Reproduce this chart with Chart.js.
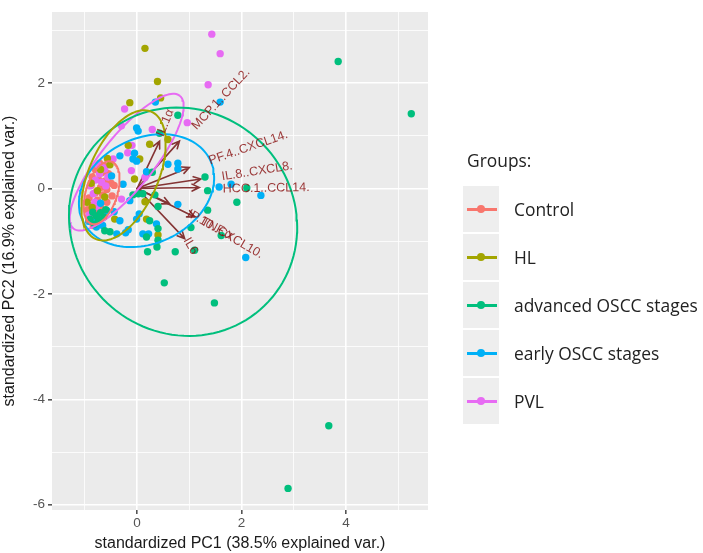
<!DOCTYPE html>
<html><head><meta charset="utf-8">
<script src="https://cdn.jsdelivr.net/npm/chart.js@4.4.1/dist/chart.umd.min.js"></script>
<style>
html,body{margin:0;padding:0;background:#fff;}
#wrap{position:relative;width:703px;height:553px;overflow:hidden;}
canvas{position:absolute;left:0;top:0;}
.lg{position:absolute;font-family:"Open Sans",sans-serif;font-size:17.4px;color:#222;line-height:20px;white-space:nowrap;}
.key{position:absolute;width:36px;height:46px;background:#EEEEEE;}
.kline{position:absolute;left:4px;width:30px;height:3px;top:21.5px;}
.kdot{position:absolute;left:14px;top:19px;width:8px;height:8px;border-radius:50%;}
</style></head><body>
<div id="wrap"><canvas id="c" width="703" height="553"></canvas></div>
<script>
// ---- data ----
const groupNames = ["Control","HL","advanced OSCC stages","early OSCC stages","PVL"];
const groupColors = ["#F8766D","#A3A500","#00BF7D","#00B0F6","#E76BF3"];

const controlPts = [[-0.72,0.48],[-0.62,0.42],[-0.80,0.36],[-0.68,0.30],[-0.55,0.28],[-0.86,0.22],[-0.74,0.17],[-0.62,0.14],[-0.50,0.10],[-0.88,0.06],[-0.70,0.02],[-0.58,-0.02],[-0.44,0.06],[-0.80,-0.08],[-0.66,-0.12],[-0.48,-0.14],[-0.92,-0.18],[-0.76,-0.22],[-0.58,-0.26],[-0.86,-0.32],[-0.70,-0.36],[-0.95,-0.40],[-0.80,-0.46],[-0.64,-0.48],[-0.88,-0.56],[-0.74,-0.62],[-0.84,-0.70]];
const hlPts = [[0.15,2.66],[0.39,2.03],[0.45,1.72],[-0.14,1.63],[0.59,0.93],[0.24,0.84],[-0.17,0.82],[-0.57,0.57],[0.05,0.56],[-0.05,0.18],[0.15,-0.25],[0.18,-0.58],[-0.43,-0.58],[0.40,-0.88],[-0.88,0.10],[-0.76,-0.04],[-0.86,-0.36],[-0.70,0.36],[-0.62,-0.16],[-0.96,-0.26],[-0.52,0.45]];
const advancedPts = [[3.85,2.41],[5.25,1.42],[0.52,-1.79],[1.48,-2.17],[3.67,-4.50],[2.89,-5.69],[0.78,1.39],[0.43,1.05],[1.30,0.22],[1.35,-0.04],[2.10,0.01],[1.91,-0.26],[1.35,-0.41],[1.03,-0.74],[1.61,-0.89],[0.73,-1.20],[1.10,-1.17],[0.20,-1.20],[0.38,-1.11],[0.40,-0.34],[0.29,0.31],[-0.08,-0.12],[0.02,-0.10],[0.11,-0.10],[0.34,-0.12],[0.24,-0.61],[0.40,-0.76],[0.40,-0.98],[0.18,-0.92],[-0.62,-0.80],[-0.52,-0.82],[-0.85,-0.45],[-0.78,-0.52],[-0.70,-0.46],[-0.90,-0.58],[-0.74,-0.60],[-0.64,-0.54],[-0.82,-0.68],[-0.60,-0.40]];
const earlyPts = [[1.59,1.64],[0.35,1.64],[-0.01,1.15],[0.02,1.09],[-0.05,0.67],[-0.33,0.62],[-0.08,0.56],[-0.01,0.52],[0.59,0.46],[0.78,0.48],[0.78,0.37],[0.18,0.32],[-0.49,0.24],[-0.27,0.08],[1.57,0.03],[1.80,0.08],[2.37,-0.13],[0.78,-0.30],[-0.14,-0.23],[0.04,-0.48],[-0.01,-0.58],[-0.33,-0.61],[-0.44,-0.44],[-0.58,-0.42],[-0.17,-0.78],[-0.22,-0.84],[-0.39,-0.86],[0.11,-0.86],[0.22,-0.86],[0.37,-0.67],[2.08,-1.31],[-0.81,-0.64],[-0.78,-0.73],[-0.70,-0.28],[-0.93,-0.62],[-0.66,-0.70]];
const pvlPts = [[1.43,2.93],[1.59,2.56],[1.36,1.97],[-0.24,1.51],[0.96,1.25],[-0.30,1.19],[0.29,1.12],[-0.10,0.82],[-0.18,0.68],[-0.46,0.56],[-0.62,0.37],[-0.11,0.34],[0.15,0.21],[-0.30,-0.20],[-0.75,0.45],[-0.66,0.40],[-0.72,0.28],[-0.56,0.22],[-0.80,0.16],[-0.68,0.12],[-0.90,0.05],[-0.84,-0.10],[-0.81,-0.26],[-0.78,-0.34],[-0.92,-0.50],[-0.60,0.05]];

// ellipse per group: [centerX, centerY, semiMajor, semiMinor, angleDeg]
const controlEllipse = [-0.68,-0.08,0.62,0.30,72];
const hlEllipse = [-0.26,0.25,1.32,0.66,66];
const advancedEllipse = [0.88,-0.63,2.23,2.12,-40];
const earlyEllipse = [0.18,-0.04,1.35,1.0,25];
const pvlEllipse = [-0.20,0.50,1.62,0.50,51];

// loadings (arrows)
const varNames = ["IL.1α","MCP.1..CCL2.","PF.4..CXCL14.","IL.8..CXCL8.","HCC.1..CCL14.","TNF.α","IP.10..CXCL10.","IL6"];
const arrowX = [0.43,0.81,1.00,1.22,1.19,0.62,1.10,0.91];
const arrowY = [0.90,0.90,0.40,0.18,0.02,-0.29,-0.54,-0.95];
const labelX = [0.44,1.09,1.38,1.62,1.64,1.24,0.98,0.94];
const labelY = [1.00,1.15,0.52,0.22,-0.01,-0.61,-0.46,-0.95];
const labelAngle = [68,47,19,9,1,-28,-30,-60];

const xTickValues = [-1,0,1,2,3,4,5];
const yTickValues = [-6,-5,-4,-3,-2,-1,0,1,2,3];
const xTitle = "standardized PC1 (38.5% explained var.)";
const yTitle = "standardized PC2 (16.9% explained var.)";

// ---- build ----
function ellipsePath(p){
  const [cx,cy,a,b,deg]=p, t=deg*Math.PI/180, out=[];
  for(let i=0;i<=120;i++){const s=i/120*2*Math.PI;
    out.push({x:cx+a*Math.cos(s)*Math.cos(t)-b*Math.sin(s)*Math.sin(t), y:cy+a*Math.cos(s)*Math.sin(t)+b*Math.sin(s)*Math.cos(t)});}
  return out;
}
const ptsByGroup=[controlPts,hlPts,advancedPts,earlyPts,pvlPts];
const ellByGroup=[controlEllipse,hlEllipse,advancedEllipse,earlyEllipse,pvlEllipse];
const datasets=[];
ellByGroup.forEach((e,i)=>datasets.push({type:'line',data:ellipsePath(e),borderColor:groupColors[i],borderWidth:2,pointRadius:0,fill:false,tension:0,order:0}));
[2,3,1,4,0].forEach(i=>datasets.push({type:'scatter',data:ptsByGroup[i].map(p=>({x:p[0],y:p[1]})),backgroundColor:groupColors[i],borderWidth:0,pointRadius:3.7,order:1}));

const bgPlugin={id:'bg',beforeDraw(c){const a=c.chartArea,x=c.ctx;x.save();x.fillStyle='#EBEBEB';x.fillRect(a.left,a.top,a.right-a.left,a.bottom-a.top);x.restore();}};
const arrowPlugin={id:'arrows',
  beforeDatasetsDraw(c){const x=c.ctx,sx=c.scales.x,sy=c.scales.y;x.save();
    x.strokeStyle='#843434';x.lineWidth=1.6;x.lineCap='round';
    const ox=sx.getPixelForValue(0),oy=sy.getPixelForValue(0);
    arrowX.forEach((ax,i)=>{const ex=sx.getPixelForValue(ax),ey=sy.getPixelForValue(arrowY[i]);
      const ang=Math.atan2(ey-oy,ex-ox),L=8,w=0.45;
      x.beginPath();x.moveTo(ox,oy);x.lineTo(ex,ey);
      x.moveTo(ex-L*Math.cos(ang-w),ey-L*Math.sin(ang-w));x.lineTo(ex,ey);x.lineTo(ex-L*Math.cos(ang+w),ey-L*Math.sin(ang+w));
      x.stroke();});
    x.restore();},
  afterDatasetsDraw(c){const x=c.ctx,sx=c.scales.x,sy=c.scales.y;x.save();
    x.fillStyle='rgba(139,20,20,0.85)';x.font='12.5px "Liberation Sans", Arial, sans-serif';x.textAlign='left';x.textBaseline='middle';
    varNames.forEach((n,i)=>{x.save();x.translate(sx.getPixelForValue(labelX[i]),sy.getPixelForValue(labelY[i]));
      x.rotate(-labelAngle[i]*Math.PI/180);x.fillText(n,0,0);x.restore();});
    x.restore();}
};
const even=v=>Math.abs(v%2)<1e-9;
Chart.defaults.font.family='"Liberation Sans", Arial, sans-serif';
new Chart(document.getElementById('c'),{
  type:'scatter',
  data:{datasets},
  options:{responsive:false,animation:false,
    layout:{padding:{left:2,top:12,right:275,bottom:1.5}},
    plugins:{legend:{display:false},tooltip:{enabled:false}},
    scales:{
      x:{type:'linear',min:-1.63,max:5.57,
        afterBuildTicks:s=>{s.ticks=xTickValues.map(v=>({value:v}));},
        ticks:{autoSkip:false,maxRotation:0,color:'#555555',font:{size:13.5,lineHeight:1},padding:3,callback:v=>even(v)?String(v):''},
        grid:{color:'#FFFFFF',lineWidth:c=>c.tick&&even(c.tick.value)?1.6:0.8,tickColor:c=>c.tick&&even(c.tick.value)?'#555':'rgba(0,0,0,0)',tickLength:4},
        border:{display:false},
        title:{display:true,text:xTitle,color:'#1A1A1A',font:{size:16,lineHeight:1},padding:{top:2,bottom:0}}},
      y:{type:'linear',min:-6.1,max:3.35,
        afterBuildTicks:s=>{s.ticks=yTickValues.map(v=>({value:v}));},
        ticks:{autoSkip:false,color:'#555555',font:{size:13.5},padding:3,callback:v=>even(v)?String(v):''},
        grid:{color:'#FFFFFF',lineWidth:c=>c.tick&&even(c.tick.value)?1.6:0.8,tickColor:c=>c.tick&&even(c.tick.value)?'#555':'rgba(0,0,0,0)',tickLength:4},
        border:{display:false},
        title:{display:true,text:yTitle,color:'#1A1A1A',font:{size:16,lineHeight:1},padding:{top:0,bottom:12}}}
    }},
  plugins:[bgPlugin,arrowPlugin]
});
// ---- legend ----
const wrap=document.getElementById('wrap');
const t=document.createElement('div');t.className='lg';t.style.left='467px';t.style.top='150px';t.textContent='Groups:';wrap.appendChild(t);
groupNames.forEach((g,i)=>{
  const top=186+i*48;
  const k=document.createElement('div');k.className='key';k.style.left='463px';k.style.top=top+'px';
  const l=document.createElement('div');l.className='kline';l.style.background=groupColors[i];
  const d=document.createElement('div');d.className='kdot';d.style.background=groupColors[i];
  k.appendChild(l);k.appendChild(d);wrap.appendChild(k);
  const s=document.createElement('div');s.className='lg';s.style.left='514px';s.style.top=(top+13)+'px';s.textContent=g;wrap.appendChild(s);
});
</script>
</body></html>
